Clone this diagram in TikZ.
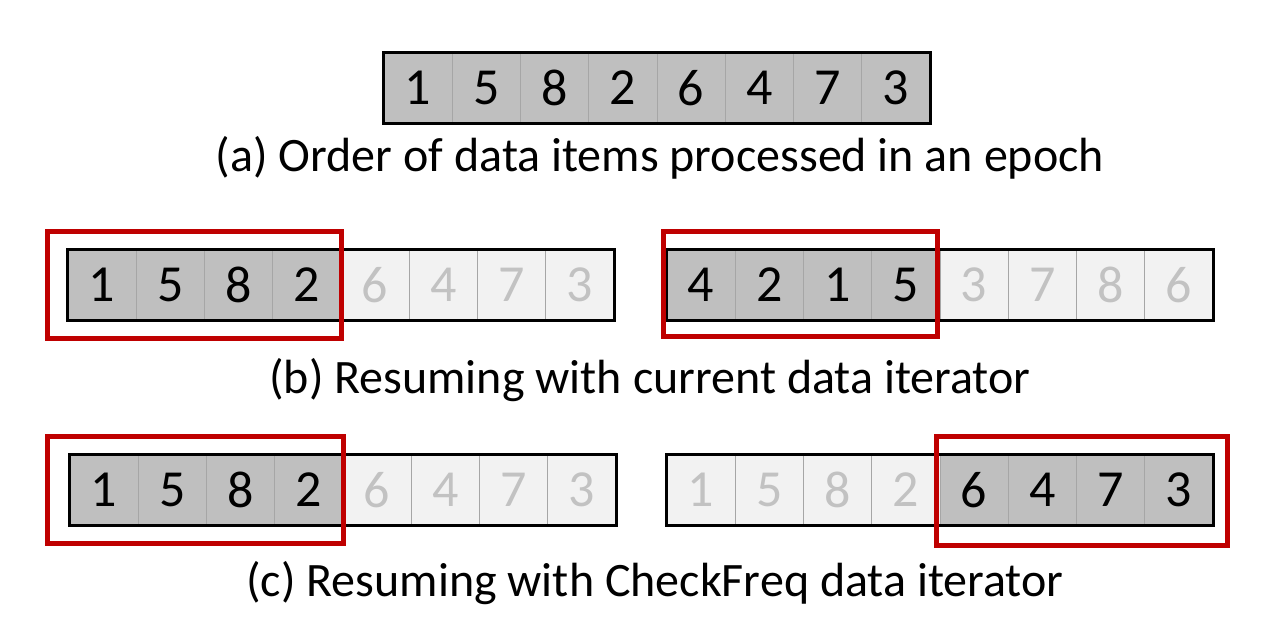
\documentclass[tikz,border=0pt]{standalone}
\usepackage{fontspec}
\setmainfont{Carlito}
\usetikzlibrary{calc}

\begin{document}
\begin{tikzpicture}[x=1pt,y=-1pt,
    cell/.style={draw=black!35,line width=0.8pt,fill=black!25,text=black,
                 minimum width=68.25pt,minimum height=70pt,inner sep=0pt,
                 font=\fontsize{52}{60}\selectfont},
    done/.style={cell,fill=black!5,text=black!24},
    strip/.style={draw=black,line width=2.5pt},
    window/.style={draw=red!75!black,line width=5pt},
    caption/.style={font=\fontsize{48}{58}\selectfont}]

  \useasboundingbox (0,0) rectangle (1264,620);

  % (a) one epoch
  \foreach \n [count=\i] in {1,5,8,2,6,4,7,3}
    \node[cell] (a\i) at (349.875+68.25*\i,88) {\n};
  \draw[strip] (a1.north west) rectangle (a8.south east);
  \node[caption] (capa) at (660,158) {(a) Order of data items processed in an epoch};

  % (b) current iterator
  \foreach \n/\s [count=\i] in {1/cell,5/cell,8/cell,2/cell,6/done,4/done,7/done,3/done}
    \node[\s] (bl\i) at (33.875+68.25*\i,285) {\n};
  \draw[strip] (bl1.north west) rectangle (bl8.south east);
  \draw[window] ($(bl1.north west)+(-20,-18)$) rectangle ($(bl4.south east)+(0,18)$);

  \foreach \n/\s [count=\i] in {4/cell,2/cell,1/cell,5/cell,3/done,7/done,8/done,6/done}
    \node[\s] (br\i) at (632.875+68.25*\i,285) {\n};
  \draw[strip] (br1.north west) rectangle (br8.south east);
  \draw[window] ($(br1.north west)+(-3,-18)$) rectangle ($(br4.south east)+(-3,16)$);
  \node[caption] (capb) at (650,380) {(b) Resuming with current data iterator};

  % (c) CheckFreq iterator
  \foreach \n/\s [count=\i] in {1/cell,5/cell,8/cell,2/cell,6/done,4/done,7/done,3/done}
    \node[\s] (cl\i) at (35.875+68.25*\i,490) {\n};
  \draw[strip] (cl1.north west) rectangle (cl8.south east);
  \draw[window] ($(cl1.north west)+(-22,-18)$) rectangle ($(cl4.south east)+(0,18)$);

  \foreach \n/\s [count=\i] in {1/done,5/done,8/done,2/done,6/cell,4/cell,7/cell,3/cell}
    \node[\s] (cr\i) at (632.875+68.25*\i,490) {\n};
  \draw[strip] (cr1.north west) rectangle (cr8.south east);
  \draw[window] ($(cr5.north west)+(-3,-18)$) rectangle ($(cr8.south east)+(14,20)$);
  \node[caption] (capc) at (655,583) {(c) Resuming with CheckFreq data iterator};
\end{tikzpicture}
\end{document}
